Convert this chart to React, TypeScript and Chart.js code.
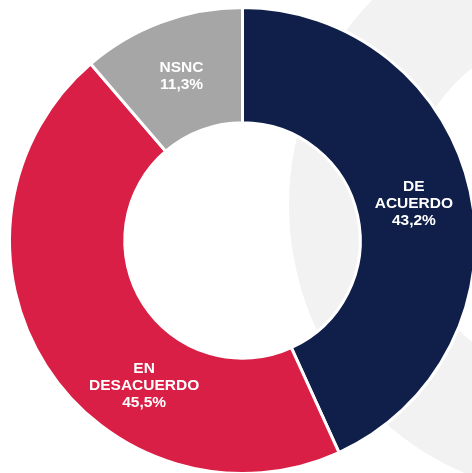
import React, { useEffect, useRef } from "react";
import { Chart, registerables } from "chart.js";

Chart.register(...registerables);

const categories = ["DE ACUERDO", "EN DESACUERDO", "NSNC"];
const labelLines = [["DE", "ACUERDO", "43,2%"], ["EN", "DESACUERDO", "45,5%"], ["NSNC", "11,3%"]];
const values = [43.2, 45.5, 11.3];
const colors = ["#0F1F4A", "#D91F45", "#A6A6A6"];
const labelAngleNudgeDeg = [0, -23.3, 0];

const CANVAS_W = 500;
const CANVAS_H = 500;
const CENTER_X = 242.5;
const CENTER_Y = 240.5;
const AREA = 470;

const backgroundDecoration = {
  id: "bgDecoration",
  beforeDraw(chart: any) {
    const ctx = chart.ctx;
    ctx.save();
    ctx.fillStyle = "#F2F2F2";
    ctx.beginPath();
    ctx.ellipse(573, 205, 284, 290, 0, 0, Math.PI * 2);
    ctx.ellipse(573, 205, 167, 172, 0, Math.PI * 2, 0, true);
    ctx.fill("evenodd");
    ctx.restore();
  },
};

const arcLabels = {
  id: "arcLabels",
  afterDatasetsDraw(chart: any) {
    const ctx = chart.ctx;
    const meta = chart.getDatasetMeta(0);
    ctx.save();
    ctx.fillStyle = "#FFFFFF";
    ctx.font = "bold 15.5px 'Liberation Sans', Arial, sans-serif";
    ctx.textAlign = "center";
    ctx.textBaseline = "middle";
    meta.data.forEach((arc: any, i: number) => {
      const p = arc.getProps(["x", "y", "startAngle", "endAngle", "innerRadius", "outerRadius"], true);
      const mid = (p.startAngle + p.endAngle) / 2 + (labelAngleNudgeDeg[i] * Math.PI) / 180;
      const r = (p.innerRadius + p.outerRadius) / 2;
      const cx = p.x + r * Math.cos(mid);
      const cy = p.y + r * Math.sin(mid);
      const lines = labelLines[i];
      const lh = 17;
      const y0 = cy - ((lines.length - 1) * lh) / 2;
      lines.forEach((t, k) => ctx.fillText(t, cx, y0 + k * lh));
    });
    ctx.restore();
  },
};

export default function App() {
  const ref = useRef<HTMLCanvasElement | null>(null);
  useEffect(() => {
    if (!ref.current) return;
    const left = CENTER_X - AREA / 2;
    const top = CENTER_Y - AREA / 2;
    const chart = new Chart(ref.current, {
      type: "doughnut",
      data: {
        labels: categories,
        datasets: [
          {
            data: values,
            backgroundColor: colors,
            borderColor: "#FFFFFF",
            borderWidth: 3,
            hoverOffset: 0,
          },
        ],
      },
      options: {
        responsive: false,
        animation: false,
        devicePixelRatio: 1,
        radius: 233,
        cutout: 118,
        layout: {
          padding: {
            left,
            top,
            right: CANVAS_W - left - AREA,
            bottom: CANVAS_H - top - AREA,
          },
        },
        plugins: {
          legend: { display: false },
          tooltip: { enabled: false },
        },
      } as any,
      plugins: [backgroundDecoration, arcLabels],
    });
    return () => chart.destroy();
  }, []);
  return (
    <div
      style={{
        position: "fixed",
        left: 0,
        top: 0,
        width: 472,
        height: 473,
        overflow: "hidden",
        background: "#FFFFFF",
      }}
    >
      <canvas ref={ref} width={CANVAS_W} height={CANVAS_H} style={{ display: "block" }} />
    </div>
  );
}
